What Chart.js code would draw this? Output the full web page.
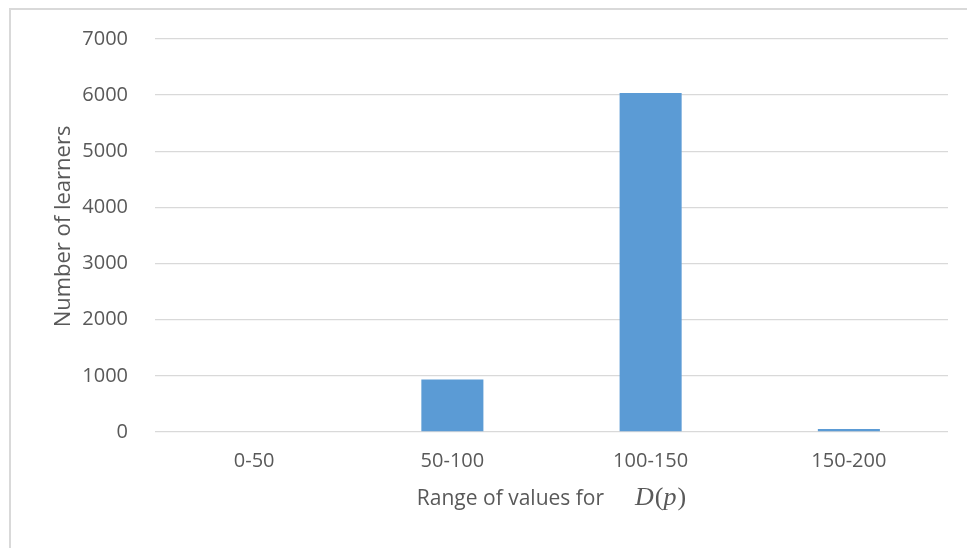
<!DOCTYPE html>
<html>
<head>
<meta charset="utf-8">
<script src="https://cdn.jsdelivr.net/npm/chart.js@4.4.1/dist/chart.umd.min.js"></script>
<style>
  html, body { margin: 0; padding: 0; background: #ffffff; }
  #wrap { position: relative; width: 967px; height: 548px; overflow: hidden; }
  #c { position: absolute; left: 0; top: 0; }
  #frame {
    position: absolute; left: 9px; top: 8px; right: -4px; bottom: -4px;
    border-left: 2px solid #d9d9d9; border-top: 2px solid #d9d9d9;
    pointer-events: none;
  }
</style>
</head>
<body>
<div id="wrap">
  <canvas id="c" width="967" height="548"></canvas>
  <div id="frame"></div>
</div>
<script>
// Histogram of learners by range of D(p)
const categories = ['0-50', '50-100', '100-150', '150-200'];
const learners = [0, 935, 6040, 55];
const yMin = 0;
const yMax = 7000;
const yStep = 1000;
const yTitle = 'Number of learners';
const xTitle = 'Range of values for';

const textColor = '#595959';
const barColor = '#5b9bd5';
const gridColor = '#d9d9d9';
const sansFamily = '"Open Sans", Lato, "Liberation Sans", sans-serif';
const serifFamily = '"Liberation Serif", "DejaVu Serif", serif';

// Axis titles: the x title ends in the math expression D(p) in an italic serif
const axisTitlePlugin = {
  id: 'axisTitles',
  afterDraw(chart) {
    const ctx = chart.ctx;
    const area = chart.chartArea;
    ctx.save();
    ctx.fillStyle = textColor;

    // x-axis title
    const runs = [
      { t: xTitle, f: '21px ' + sansFamily, gap: 31 },
      { t: 'D', f: 'italic 26px ' + serifFamily, gap: 1 },
      { t: '(', f: '26px ' + serifFamily, gap: 0 },
      { t: 'p', f: 'italic 26px ' + serifFamily, gap: 1 },
      { t: ')', f: '26px ' + serifFamily, gap: 0 }
    ];
    let total = 0;
    runs.forEach(r => { ctx.font = r.f; r.w = ctx.measureText(r.t).width; total += r.w + r.gap; });
    total -= runs[runs.length - 1].gap;
    let x = (area.left + area.right) / 2 - total / 2;
    ctx.textBaseline = 'alphabetic';
    ctx.textAlign = 'left';
    runs.forEach(r => { ctx.font = r.f; ctx.fillText(r.t, x, 505); x += r.w + r.gap; });

    // y-axis title, rotated
    ctx.font = '22px ' + sansFamily;
    ctx.translate(64, (area.top + area.bottom) / 2 - 9);
    ctx.rotate(-Math.PI / 2);
    ctx.textAlign = 'center';
    ctx.textBaseline = 'middle';
    ctx.fillText(yTitle, 0, 0);
    ctx.restore();
  }
};

new Chart(document.getElementById('c'), {
  type: 'bar',
  data: {
    labels: categories,
    datasets: [{
      data: learners,
      backgroundColor: barColor,
      borderWidth: 0,
      categoryPercentage: 1,
      barPercentage: 0.313
    }]
  },
  options: {
    responsive: false,
    animation: false,
    devicePixelRatio: 1,
    layout: { padding: { top: 36, right: 19, left: 0, bottom: 0 } },
    plugins: {
      legend: { display: false },
      tooltip: { enabled: false },
      title: { display: false }
    },
    scales: {
      x: {
        grid: { display: false, drawTicks: false },
        border: { display: false },
        ticks: {
          color: textColor,
          font: { family: sansFamily, size: 20 },
          padding: 17,
          maxRotation: 0
        },
        afterFit(scale) { scale.height = 116; }
      },
      y: {
        min: yMin,
        max: yMax,
        grid: { color: gridColor, lineWidth: 1.3, drawTicks: false },
        border: { display: false },
        ticks: {
          stepSize: yStep,
          color: textColor,
          font: { family: sansFamily, size: 20 },
          padding: 27,
          callback: (v) => String(v)
        },
        afterFit(scale) { scale.width = 155; }
      }
    }
  },
  plugins: [axisTitlePlugin]
});
</script>
</body>
</html>
